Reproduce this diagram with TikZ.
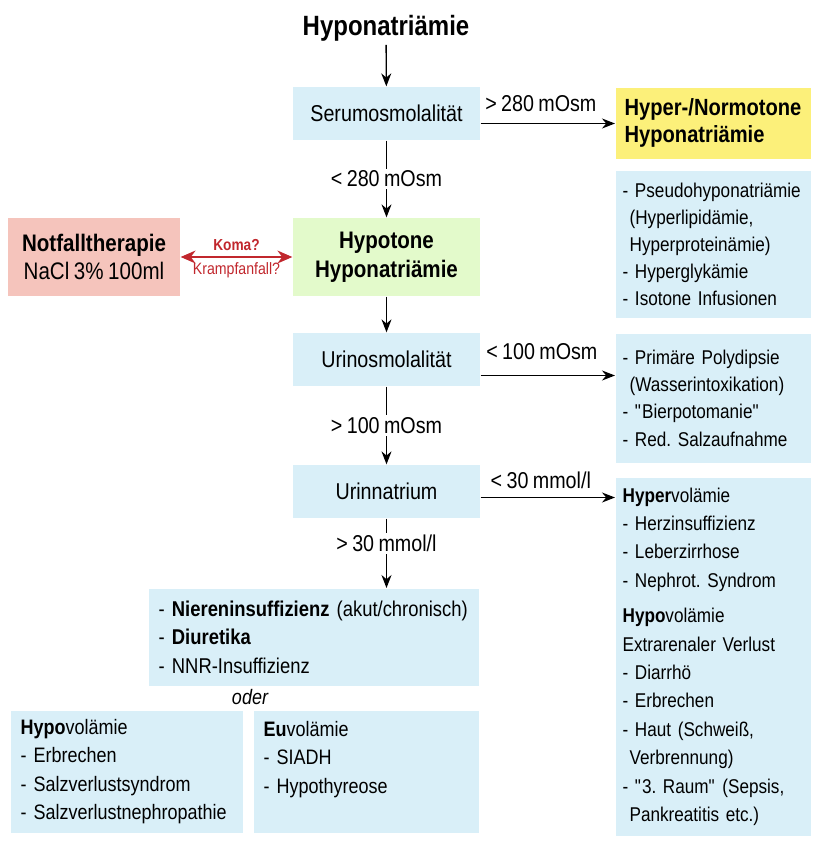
\documentclass[tikz,border=0pt]{standalone}
\usepackage{fontspec}
\setmainfont{Liberation Sans}[FakeStretch=0.86, WordSpace=0.8]
\usetikzlibrary{arrows.meta,positioning}
\definecolor{boxblue}{HTML}{D9EFF8}
\definecolor{boxgreen}{HTML}{E3FACB}
\definecolor{boxyellow}{HTML}{FCF07A}
\definecolor{boxrose}{HTML}{F5C4BC}
\definecolor{alarmred}{HTML}{C1272D}
\newcommand{\einr}{\hspace*{7bp}}
\newcommand{\gz}{\textquotedbl}
\hyphenpenalty=10000
\frenchspacing

\begin{document}
\begin{tikzpicture}[x=1bp, y=-1bp, font=\fontsize{23}{28}\selectfont,
  line width=1.3bp, >={Stealth[length=13bp,width=10bp]},
  testbox/.style={fill=boxblue, minimum width=187bp, minimum height=53bp, inner sep=0pt},
  listbox/.style={fill=boxblue, anchor=north west, align=left, inner xsep=7bp, inner ysep=0pt},
  lbl/.style={fill=white, inner sep=2bp}]
\useasboundingbox (0,0) rectangle (822,844);
% Hauptachse
\node[font=\fontsize{28}{32}\selectfont\bfseries] (titel) at (386,28) {Hyponatriämie};
\node[testbox] (serum) at (386.5,113.5) {Serumosmolalität};
\node[fill=boxgreen, minimum width=187bp, minimum height=78bp, align=center, font=\fontsize{24}{29}\selectfont\bfseries]
  (hypoton) at (386.5,257) {Hypotone\\Hyponatriämie};
\node[testbox] (urin) at (386.5,359.5) {Urinosmolalität};
\node[testbox] (natrium) at (386.5,491.5) {Urinnatrium};
\node[fill=boxrose, minimum width=172bp, minimum height=78bp, align=center, font=\fontsize{24}{29}\selectfont]
  (notfall) at (94,257) {\textbf{Notfalltherapie}\\NaCl 3\% 100ml};
% rechte Spalte
\node[listbox, fill=boxyellow, minimum width=195bp, minimum height=71bp, text width=177bp,
  inner xsep=9bp, font=\fontsize{23.5}{27}\selectfont\bfseries] (hyper) at (615,87) {Hyper-/Normotone\\Hyponatriämie};
\node[listbox, minimum width=195bp, minimum height=147bp, text width=181bp, font=\fontsize{20}{27}\selectfont]
  (pseudo) at (615,170)
  {- Pseudohyponatriämie\\\einr(Hyperlipidämie,\\\einr Hyperproteinämie)\\- Hyperglykämie\\- Isotone Infusionen};
\node[listbox, minimum width=195bp, minimum height=129bp, text width=181bp, font=\fontsize{20}{27.5}\selectfont]
  (polydip) at (615,333)
  {- Primäre Polydipsie\\\einr(Wasserintoxikation)\\- \gz Bierpotomanie\gz\\- Red. Salzaufnahme};
\node[listbox, minimum width=195bp, minimum height=358bp, text width=181bp, font=\fontsize{20}{28.5}\selectfont]
  (volumen) at (615,477)
  {\textbf{Hyper}volämie\\- Herzinsuffizienz\\- Leberzirrhose\\- Nephrot. Syndrom\\[7bp]
   \textbf{Hypo}volämie\\Extrarenaler Verlust\\- Diarrhö\\- Erbrechen\\- Haut (Schweiß,\\\einr Verbrennung)\\
   - \gz 3. Raum\gz{} (Sepsis,\\\einr Pankreatitis etc.)};
% untere Kästen
\node[listbox, minimum width=330bp, minimum height=97bp, text width=310bp, inner xsep=10bp,
  font=\fontsize{21.5}{28.5}\selectfont] (renal) at (148,588)
  {- \textbf{Niereninsuffizienz} (akut/chronisch)\\- \textbf{Diuretika}\\- NNR-Insuffizienz};
\node[font=\fontsize{21}{28}\selectfont\itshape] (oder) at (250,697) {oder};
\node[listbox, minimum width=232bp, minimum height=122bp, text width=212bp, inner xsep=10bp,
  font=\fontsize{21}{28.6}\selectfont] (hypovol) at (10,710)
  {\textbf{Hypo}volämie\\- Erbrechen\\- Salzverlustsyndrom\\- Salzverlustnephropathie};
\node[listbox, minimum width=225bp, minimum height=122bp, text width=205bp, inner xsep=10bp,
  font=\fontsize{21}{28.6}\selectfont] (euvol) at (253,710)
  {\textbf{Eu}volämie\\- SIADH\\- Hypothyreose\\\mbox{}};
% Pfeile
\draw[->] (titel) -- (serum);
\draw[->] (serum) -- node[lbl]{< 280 mOsm} (hypoton);
\draw[->] (hypoton) -- (urin);
\draw[->] (urin) -- node[lbl]{> 100 mOsm} (natrium);
\draw[->] (natrium.south) -- node[lbl, pos=0.36]{> 30 mmol/l} (natrium.south |- renal.north);
\coordinate (s1) at ([yshift=-10bp]serum.east);
\draw[->] (s1) -- (s1 -| hyper.west) node[midway, above=11bp, xshift=-7bp, inner sep=0pt]{> 280 mOsm};
\coordinate (s2) at ([yshift=-16bp]urin.east);
\draw[->] (s2) -- (s2 -| polydip.west) node[midway, above=15bp, xshift=-6bp, inner sep=0pt]{< 100 mOsm};
\coordinate (s3) at ([yshift=-6bp]natrium.east);
\draw[->] (s3) -- (s3 -| volumen.west) node[midway, above=8bp, xshift=-7bp, inner sep=0pt]{< 30 mmol/l};
\draw[alarmred, line width=1.1bp, {Stealth[length=15bp,width=13bp]}-{Stealth[length=15bp,width=13bp]}]
  (notfall) -- node[above=6bp, inner sep=0pt, font=\fontsize{16}{18}\selectfont\bfseries]{Koma?}
  node[below=5bp, inner sep=0pt, font=\fontsize{16.5}{18}\selectfont]{Krampfanfall?} (hypoton);
\end{tikzpicture}
\end{document}
